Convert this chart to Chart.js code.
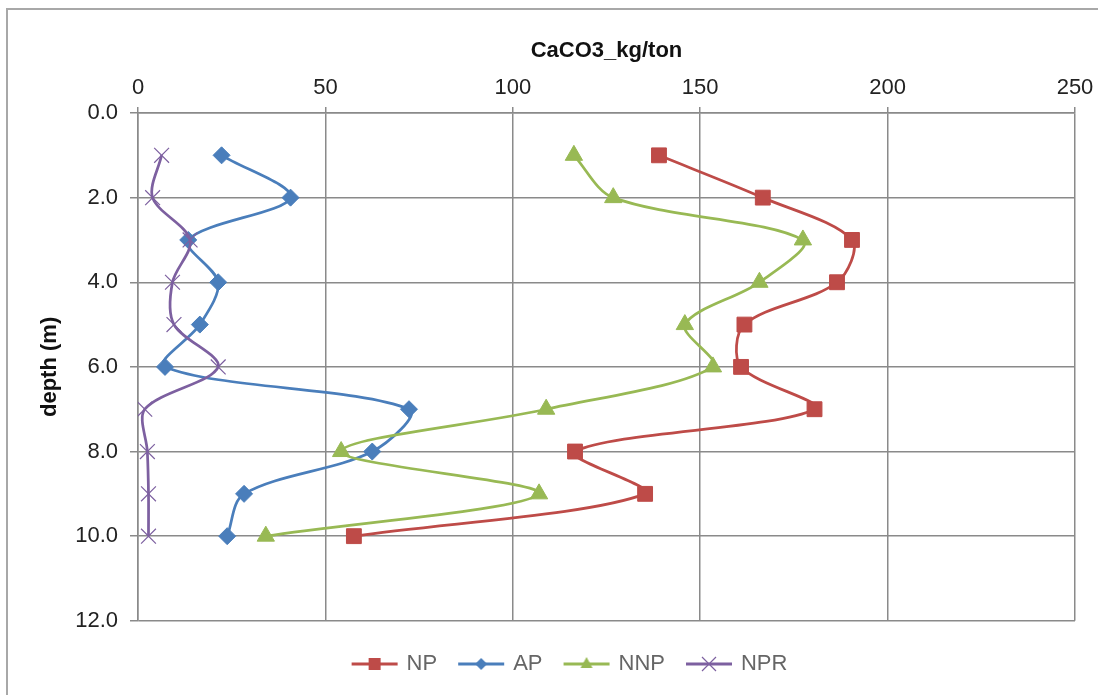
<!DOCTYPE html>
<html>
<head>
<meta charset="utf-8">
<script src="https://cdn.jsdelivr.net/npm/chart.js@4/dist/chart.umd.min.js"></script>
<style>
  html, body { margin: 0; padding: 0; background: #fff; }
  #wrap { position: relative; width: 1112px; height: 695px; overflow: hidden; }
  #frame { position: absolute; left: 6px; top: 8px; width: 1090px; height: 720px;
           border-left: 2px solid #a8a8a8; border-top: 2px solid #a8a8a8; }
  canvas { position: absolute; left: 0; top: 0; }
</style>
</head>
<body>
<div id="wrap">
  <div id="frame"></div>
  <canvas id="depth-chart" width="1112" height="695"></canvas>
</div>
<script>
// depth (m)
var depths = [1, 2, 3, 4, 5, 6, 7, 8, 9, 10];
// CaCO3 kg/ton
var npVals  = [139, 166.7, 190.5, 186.5, 161.8, 160.9, 180.5, 116.6, 135.3, 57.6];
var apVals  = [22.3, 40.7, 13.4, 21.4, 16.5, 7.2, 72.3, 62.5, 28.3, 23.8];
var nnpVals = [116.3, 126.8, 177.4, 165.8, 145.9, 153.4, 108.9, 54.2, 107, 34.1];
var nprVals = [6.3, 3.9, 13.9, 9.2, 9.6, 21.4, 1.8, 2.5, 2.8, 2.8];

var xTicks = [0, 50, 100, 150, 200, 250];
var yTicks = [0, 2, 4, 6, 8, 10, 12];

function pts(vals) {
    return vals.map(function (v, i) { return {x: v, y: depths[i]}; });
}

// small legend icon: line with marker, like Excel
function legendIcon(color, shape) {
    var c = document.createElement('canvas');
    c.width = 48; c.height = 20;
    var g = c.getContext('2d');
    g.strokeStyle = color; g.lineWidth = 3;
    g.beginPath(); g.moveTo(1, 10); g.lineTo(47, 10); g.stroke();
    g.fillStyle = color;
    g.beginPath();
    if (shape == 'rect') {
        g.rect(18, 4, 12, 12); g.fill();
    } else if (shape == 'rectRot') {
        g.moveTo(24, 4); g.lineTo(30, 10); g.lineTo(24, 16); g.lineTo(18, 10); g.closePath(); g.fill();
    } else if (shape == 'triangle') {
        g.moveTo(24, 3); g.lineTo(30, 14); g.lineTo(18, 14); g.closePath(); g.fill();
    } else {
        g.lineWidth = 1.2;
        g.moveTo(17, 3); g.lineTo(31, 17); g.moveTo(31, 3); g.lineTo(17, 17); g.stroke();
    }
    return c;
}

var font = "'Liberation Sans', Arial, sans-serif";
var series = [
    {label: 'NP',  data: pts(npVals),  color: '#BE4B48', style: 'rect',     r: 10.5, bw: 1, order: 4},
    {label: 'AP',  data: pts(apVals),  color: '#4A7EBB', style: 'rectRot',  r: 8.5,  bw: 1, order: 3},
    {label: 'NNP', data: pts(nnpVals), color: '#98B954', style: 'triangle', r: 10,   bw: 1, order: 2},
    {label: 'NPR', data: pts(nprVals), color: '#7D60A0', style: 'crossRot', r: 10.5, bw: 1.2, order: 1}
];

var datasets = series.map(function (s) {
    return {
        label: s.label,
        data: s.data,
        showLine: true,
        tension: 0.32,
        borderColor: s.color,
        backgroundColor: s.color,
        borderWidth: 2.75,
        pointStyle: s.style,
        pointRadius: s.r,
        pointBorderWidth: s.bw,
        pointBackgroundColor: s.color,
        pointBorderColor: s.color,
        order: s.order,
        icon: legendIcon(s.color, s.style)
    };
});

var ctx = document.getElementById('depth-chart').getContext('2d');
new Chart(ctx, {
    type: 'scatter',
    data: {datasets: datasets},
    options: {
        responsive: false,
        animation: false,
        layout: {padding: {left: 66, right: 37, top: 25, bottom: 10}},
        plugins: {
            tooltip: {enabled: false},
            legend: {
                position: 'bottom',
                title: {display: true, text: '', font: {size: 1}, padding: {top: 8, bottom: 0}},
                labels: {
                    usePointStyle: true,
                    pointStyleWidth: 42,
                    padding: 23,
                    color: '#222',
                    font: {family: font, size: 22},
                    generateLabels: function (chart) {
                        return chart.data.datasets.map(function (ds, i) {
                            return {text: ds.label, pointStyle: ds.icon, fillStyle: ds.borderColor,
                                    strokeStyle: ds.borderColor, lineWidth: 0, datasetIndex: i, hidden: false};
                        });
                    }
                }
            }
        },
        scales: {
            x: {
                type: 'linear',
                position: 'top',
                min: 0, max: 250,
                afterBuildTicks: function (s) { s.ticks = xTicks.map(function (v) { return {value: v}; }); },
                afterFit: function (s) { s.height = 113 - 25; },
                ticks: {color: '#222', font: {family: font, size: 22}, padding: 6, maxRotation: 0},
                grid: {color: '#8a8a8a', lineWidth: 1.5, tickLength: 6},
                border: {color: '#8a8a8a', width: 1.5},
                title: {display: true, text: 'CaCO3_kg/ton', color: '#111',
                        font: {family: font, size: 22, weight: 'bold'}, padding: {top: 13, bottom: 0}}
            },
            y: {
                type: 'linear',
                reverse: true,
                min: 0, max: 12,
                afterBuildTicks: function (s) { s.ticks = yTicks.map(function (v) { return {value: v}; }); },
                afterFit: function (s) { s.width = 138 - 66; },
                ticks: {color: '#222', font: {family: font, size: 22}, padding: 12,
                        callback: function (v) { return v.toFixed(1); }},
                grid: {color: '#8a8a8a', lineWidth: 1.5, tickLength: 8},
                border: {color: '#8a8a8a', width: 1.5},
                title: {display: true, text: 'depth (m)', color: '#111',
                        font: {family: font, size: 22, weight: 'bold'}, padding: {top: -29, bottom: 0}}
            }
        }
    }
});
</script>
</body>
</html>
